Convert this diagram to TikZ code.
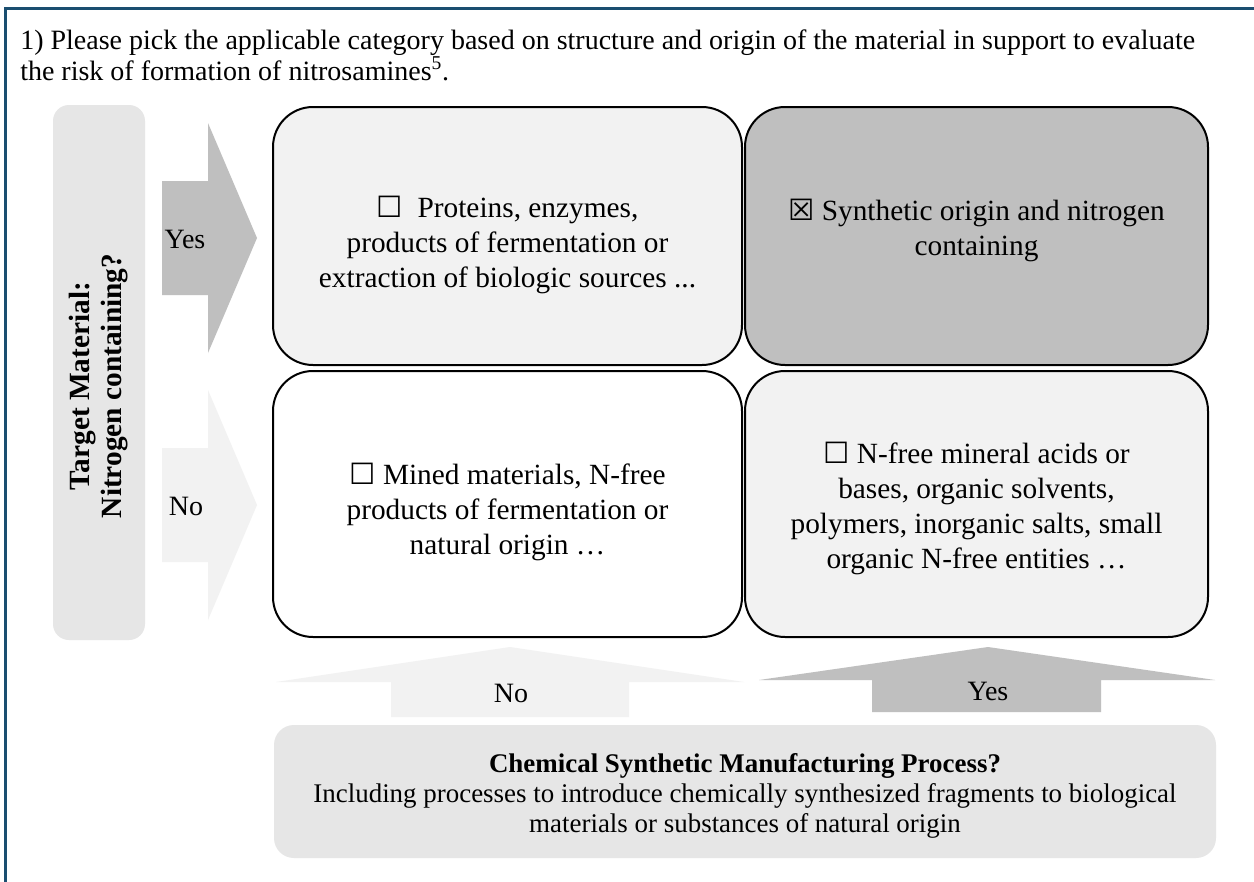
\documentclass[tikz,border=0pt]{standalone}
\usepackage{fontspec}
\setmainfont{Liberation Serif}
\newfontfamily\symfont{DejaVu Sans}
\definecolor{frameblue}{HTML}{1A4E70}
\definecolor{gA}{HTML}{F2F2F2}
\definecolor{gB}{HTML}{BFBFBF}
\definecolor{gC}{HTML}{E6E6E6}
\newcommand\unbox{{\symfont\char"2610}}
\newcommand\xbox{{\symfont\char"2612}}
\begin{document}
\begin{tikzpicture}[x=0.75pt,y=-0.75pt,
  catbox/.style={draw=black,line width=1.5pt,rounded corners=30pt,inner sep=0pt},
  cattext/.style={anchor=base,align=center,inner sep=0pt,font=\fontsize{22}{26.25}\selectfont},
  lbl/.style={font=\fontsize{21}{24}\selectfont,inner sep=0pt}]
\useasboundingbox (0,0) rectangle (1254,882);
\fill[white] (0,0) rectangle (1254,882);
% outer frame (cropped)
\draw[frameblue,line width=2.25pt] (5,900) -- (5,8) -- (1270,8);
% title
\node[anchor=base west,align=left,inner sep=0pt,font=\fontsize{21}{23.25}\selectfont] (title) at (20,80)
 {1) Please pick the applicable category based on structure and origin of the material in support to evaluate\\
  the risk of formation of nitrosamines\textsuperscript{5}.};
% left question box
\node[fill=gC,rounded corners=12pt,minimum width=69pt,minimum height=401.25pt,inner sep=0pt] (q1) at (99,372.5) {};
\node[rotate=90,align=center,inner sep=0pt,font=\bfseries\fontsize{22}{24}\selectfont] (q1t) at (99,386) {Target Material:\\Nitrogen containing?};
% left arrows
\fill[gB] (162,181) -- (208,181) -- (208,123) -- (257,238) -- (208,353) -- (208,295) -- (162,295) -- cycle;
\node[lbl] (yesL) at (185,239) {Yes};
\fill[gA] (162,448) -- (208,448) -- (208,390) -- (257,505) -- (208,620) -- (208,562) -- (162,562) -- cycle;
\node[lbl] (noL) at (186,506) {No};
% category boxes
\node[catbox,fill=gA,minimum width=351.75pt,minimum height=193.5pt] (c1) at (507.5,236) {};
\node[cattext] (c1t) at (507.5,287)
 {\unbox\ \ Proteins, enzymes,\\products of fermentation or\\extraction of biologic sources ...};
\node[catbox,fill=gB,minimum width=347.25pt,minimum height=193.5pt] (c2) at (976.5,236) {};
\node[cattext] (c2t) at (976.5,255)
 {\xbox\ Synthetic origin and nitrogen\\containing};
\node[catbox,fill=white,minimum width=351.75pt,minimum height=199.5pt] (c3) at (507.5,504) {};
\node[cattext] (c3t) at (507.5,554)
 {\unbox\ Mined materials, N-free\\products of fermentation or\\natural origin …};
\node[catbox,fill=gA,minimum width=347.25pt,minimum height=199.5pt] (c4) at (976.5,504) {};
\node[cattext] (c4t) at (976.5,568)
 {\unbox\ N-free mineral acids or\\bases, organic solvents,\\polymers, inorganic salts, small\\organic N-free entities …};
% bottom arrows
\fill[gA] (391,717) -- (391,682) -- (276,682) -- (510,647) -- (744,682) -- (629,682) -- (629,717) -- cycle;
\node[lbl] (noB) at (511,693) {No};
\fill[gB] (872,712) -- (872,680) -- (759,680) -- (988,647) -- (1215,680) -- (1101,680) -- (1101,712) -- cycle;
\node[lbl] (yesB) at (988,691) {Yes};
% bottom question box
\node[fill=gC,rounded corners=15pt,minimum width=706.5pt,minimum height=99.75pt,inner sep=0pt] (q2) at (745,791.5) {};
\node[anchor=base,align=center,inner sep=0pt,font=\fontsize{20.2}{22.5}\selectfont] (q2t) at (745,832)
 {\textbf{Chemical Synthetic Manufacturing Process?}\\
  Including processes to introduce chemically synthesized fragments to biological\\
  materials or substances of natural origin};
\end{tikzpicture}
\end{document}
